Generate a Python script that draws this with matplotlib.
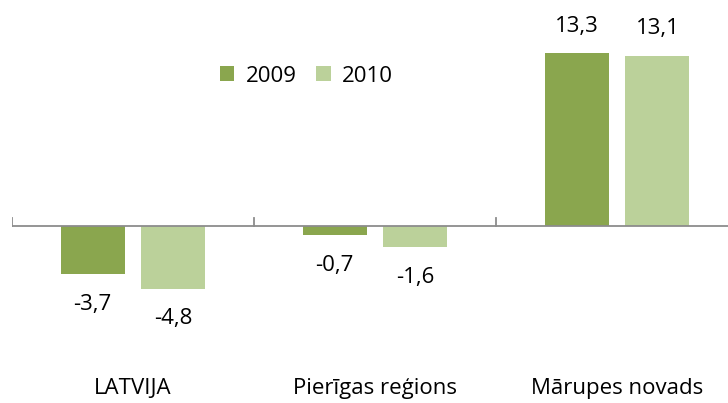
import matplotlib
matplotlib.use("Agg")
import matplotlib.pyplot as plt
import numpy as np

# data
categories = ["LATVIJA", "Pierīgas reģions", "Mārupes novads"]
series = ["2009", "2010"]
values_2009 = [-3.7, -0.7, 13.3]
values_2010 = [-4.8, -1.6, 13.1]
colors = ["#8AA64E", "#BBD19A"]

plt.rcParams['font.family'] = ['Open Sans', 'DejaVu Sans']
fs = 16

fig = plt.figure(figsize=(7.28, 4.03), dpi=100)
ax = fig.add_axes([12 / 728, 0, 726 / 728, 1])

x = np.arange(len(categories))
width = 0.264
offset = 0.167

for vals, name, col, sign in [(values_2009, series[0], colors[0], -1),
                              (values_2010, series[1], colors[1], 1)]:
    bars = ax.bar(x + sign * offset, vals, width, color=col, label=name)
    for b, v in zip(bars, vals):
        dy = 27 if v >= 0 else -30
        ax.annotate(f"{v:.1f}".replace(".", ","),
                    (b.get_x() + b.get_width() / 2, v),
                    xytext=(0, dy), textcoords="offset pixels",
                    ha="center", va="center", fontsize=fs, color="#000000")

ax.set_xlim(-0.5, 2.5)
ax.set_ylim(-13.6, 17.4)

# category axis at zero
ax.axhline(0, color="#8C8C8C", lw=1.3, zorder=3)
for t in [-0.5, 0.5, 1.5]:
    ax.plot([t, t], [0, 0.6], color="#8C8C8C", lw=1.3, zorder=3)

for i, c in enumerate(categories):
    ax.text(i, -12.45, c, ha="center", va="center", fontsize=fs)

ax.axis("off")

fig.legend(loc="center", bbox_to_anchor=(0.421, 0.811), ncol=2, frameon=False,
           fontsize=fs, handlelength=0.65, handleheight=0.65, handletextpad=0.5,
           columnspacing=0.9)

fig.savefig("out.png", dpi=100)
